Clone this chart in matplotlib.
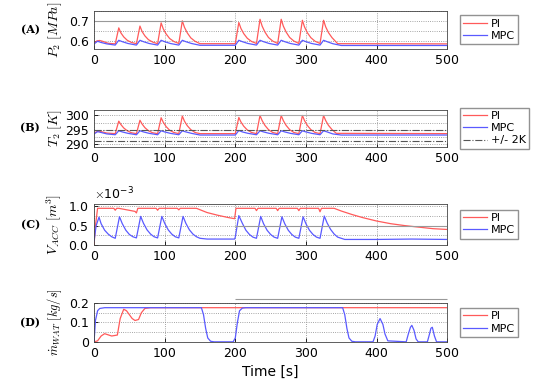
import numpy as np
import matplotlib
matplotlib.use('Agg')
import matplotlib.pyplot as plt
from matplotlib.ticker import ScalarFormatter

plt.rcParams['mathtext.fontset'] = 'cm'

# (A) pressure P2 [MPa]
tA_pi = [0, 4, 8, 12, 20, 30, 35, 38, 42, 47, 53, 60, 65, 68, 72, 77, 83, 90, 95, 98, 102, 107, 113, 120,
         125, 128, 132, 137, 143, 150, 200, 205, 208, 212, 217, 223, 230, 235, 238, 242, 247, 253, 260,
         265, 268, 272, 277, 283, 290, 295, 298, 302, 307, 313, 320, 325, 328, 332, 337, 345, 500]
pA_pi = [0.588, 0.600, 0.602, 0.598, 0.588, 0.585, 0.665, 0.640, 0.620, 0.603, 0.592, 0.586, 0.674, 0.647,
         0.625, 0.606, 0.594, 0.586, 0.690, 0.660, 0.635, 0.612, 0.597, 0.587, 0.700, 0.668, 0.640, 0.615,
         0.598, 0.586, 0.586, 0.692, 0.662, 0.636, 0.613, 0.597, 0.587, 0.708, 0.674, 0.644, 0.617, 0.599,
         0.587, 0.708, 0.674, 0.644, 0.617, 0.599, 0.587, 0.703, 0.670, 0.641, 0.616, 0.598, 0.587, 0.703,
         0.670, 0.641, 0.616, 0.586, 0.585]
tA_mpc = [0, 5, 10, 18, 30, 35, 40, 48, 60, 65, 70, 78, 90, 95, 100, 108, 120, 125, 130, 138, 150, 200,
          205, 210, 218, 230, 235, 240, 248, 260, 265, 270, 278, 290, 295, 300, 308, 320, 325, 330, 338, 350, 500]
pA_mpc = [0.585, 0.598, 0.592, 0.585, 0.579, 0.603, 0.596, 0.587, 0.579, 0.603, 0.596, 0.587, 0.579, 0.603,
          0.596, 0.587, 0.579, 0.603, 0.596, 0.587, 0.578, 0.578, 0.603, 0.596, 0.587, 0.579, 0.603, 0.596,
          0.587, 0.579, 0.603, 0.596, 0.587, 0.579, 0.603, 0.596, 0.587, 0.579, 0.603, 0.596, 0.586, 0.577, 0.577]

# (B) temperature T2 [K]
tB_pi = [0, 6, 10, 18, 30, 35, 38, 42, 47, 53, 60, 65, 68, 72, 77, 83, 90, 95, 98, 102, 107, 113, 120,
         125, 128, 132, 137, 143, 150, 200, 205, 208, 212, 217, 223, 230, 235, 238, 242, 247, 253, 260,
         265, 268, 272, 277, 283, 290, 295, 298, 302, 307, 313, 320, 325, 328, 332, 337, 343, 500]
pB_pi = [293.8, 294.5, 294.3, 293.8, 293.6, 298.0, 296.8, 295.6, 294.6, 293.9, 293.6, 298.3, 297.0, 295.7,
         294.6, 293.9, 293.6, 299.2, 297.6, 296.1, 294.8, 294.0, 293.6, 299.8, 298.0, 296.4, 295.0, 294.0,
         293.6, 293.6, 299.3, 297.7, 296.2, 294.9, 294.0, 293.6, 300.0, 298.2, 296.5, 295.0, 294.0, 293.6,
         300.0, 298.2, 296.5, 295.0, 294.0, 293.6, 300.0, 298.2, 296.5, 295.0, 294.0, 293.6, 300.0, 298.2,
         296.5, 295.0, 293.7, 293.6]
tB_mpc = tA_mpc
pB_mpc = [293.5, 294.3, 294.0, 293.5, 293.2, 294.6, 294.2, 293.7, 293.2, 294.6, 294.2, 293.7, 293.2, 294.6,
          294.2, 293.7, 293.2, 294.6, 294.2, 293.7, 293.1, 293.1, 294.7, 294.2, 293.7, 293.2, 294.6, 294.2,
          293.7, 293.2, 294.6, 294.2, 293.7, 293.2, 294.6, 294.2, 293.7, 293.2, 294.6, 294.2, 293.5, 293.1, 293.1]
band_B = [295.0, 291.0]

# (C) accumulator volume [x1e-3 m^3]
tC_pi = [0, 2, 5, 28, 30, 32, 35, 58, 60, 62, 88, 90, 92, 118, 120, 122, 145, 160, 175, 190, 199, 201,
         228, 230, 232, 258, 260, 262, 288, 290, 292, 318, 320, 322, 340, 350, 365, 380, 400, 420, 440,
         460, 480, 500]
vC_pi = [0.0, 0.5, 0.95, 0.95, 0.90, 0.95, 0.95, 0.87, 0.83, 0.95, 0.95, 0.90, 0.95, 0.95, 0.91, 0.95,
         0.95, 0.84, 0.77, 0.71, 0.68, 0.95, 0.95, 0.89, 0.95, 0.95, 0.89, 0.95, 0.95, 0.89, 0.95, 0.95,
         0.86, 0.95, 0.95, 0.88, 0.79, 0.71, 0.62, 0.55, 0.50, 0.46, 0.42, 0.40]
tC_mpc = [0, 3, 7, 10, 15, 20, 25, 30, 36, 40, 45, 50, 55, 60, 66, 70, 75, 80, 85, 90, 96, 100, 105, 110,
          115, 120, 126, 130, 135, 140, 145, 150, 160, 199, 200, 205, 210, 215, 220, 225, 230, 236, 240,
          245, 250, 255, 260, 266, 270, 275, 280, 285, 290, 296, 300, 305, 310, 315, 320, 326, 330, 335,
          340, 345, 355, 400, 450, 500]
vC_mpc = [0.10, 0.50, 0.72, 0.55, 0.38, 0.28, 0.21, 0.17, 0.73, 0.55, 0.38, 0.27, 0.21, 0.18, 0.74, 0.56,
          0.39, 0.28, 0.21, 0.18, 0.74, 0.56, 0.39, 0.28, 0.21, 0.18, 0.74, 0.56, 0.39, 0.28, 0.21, 0.17,
          0.15, 0.15, 0.20, 0.76, 0.56, 0.38, 0.27, 0.20, 0.17, 0.74, 0.55, 0.38, 0.27, 0.20, 0.17, 0.73,
          0.55, 0.38, 0.27, 0.20, 0.17, 0.73, 0.55, 0.38, 0.27, 0.20, 0.17, 0.75, 0.57, 0.40, 0.28, 0.20,
          0.14, 0.14, 0.15, 0.14]

# (D) water mass flow [kg/s]
tD_pi = [0, 5, 10, 15, 20, 25, 33, 37, 42, 46, 50, 54, 58, 63, 67, 72, 80, 500]
mD_pi = [0.0, 0.005, 0.03, 0.042, 0.036, 0.030, 0.035, 0.12, 0.168, 0.160, 0.140, 0.120, 0.110, 0.115,
         0.150, 0.172, 0.176, 0.176]
tD_mpc = [0, 2, 5, 8, 15, 152, 155, 158, 161, 165, 170, 197, 200, 203, 206, 210, 215, 352, 355, 358, 361,
          365, 370, 395, 398, 401, 405, 409, 412, 416, 442, 445, 448, 450, 453, 456, 459, 472, 475, 477,
          479, 482, 485, 500]
mD_mpc = [0.0, 0.11, 0.16, 0.172, 0.176, 0.176, 0.14, 0.07, 0.02, 0.003, 0.0, 0.0, 0.02, 0.10, 0.16,
          0.174, 0.176, 0.176, 0.14, 0.07, 0.02, 0.003, 0.0, 0.0, 0.03, 0.09, 0.12, 0.09, 0.04, 0.005, 0.0,
          0.04, 0.075, 0.085, 0.06, 0.015, 0.0, 0.0, 0.04, 0.07, 0.075, 0.03, 0.0, 0.0]

red = '#ff5a5a'
blue = '#5a5aff'

fig = plt.figure(figsize=(5.5, 3.88), dpi=100)
pos = [[0.171, 0.874, 0.642, 0.098],
       [0.171, 0.622, 0.642, 0.095],
       [0.171, 0.369, 0.642, 0.106],
       [0.171, 0.119, 0.642, 0.100]]
axs = [fig.add_axes(p) for p in pos]

axs[0].plot(tA_pi, pA_pi, color=red, lw=0.9, label='PI')
axs[0].plot(tA_mpc, pA_mpc, color=blue, lw=0.9, label='MPC')
axs[0].hlines(0.70, 0, 195, color='#999999', lw=0.8)
axs[0].set_ylim(0.56, 0.75)
axs[0].set_yticks([0.6, 0.7])
axs[0].set_yticklabels(['0.6', '0.7'])
axs[0].set_ylabel(r'$P_2\ [MPa]$', fontsize=10)

axs[1].plot(tB_pi, pB_pi, color=red, lw=0.9, label='PI')
axs[1].plot(tB_mpc, pB_mpc, color=blue, lw=0.9, label='MPC')
axs[1].axhline(band_B[0], color='#555555', lw=0.8, ls='-.', label='+/- 2K')
axs[1].axhline(band_B[1], color='#555555', lw=0.8, ls='-.')
axs[1].hlines(300, 200, 500, color='#aaaaaa', lw=0.8)
axs[1].set_ylim(289, 302)
axs[1].set_yticks([290, 295, 300])
axs[1].set_ylabel(r'$T_2\ [K]$', fontsize=10)

axs[2].plot(tC_pi, np.array(vC_pi) * 1e-3, color=red, lw=0.9, label='PI')
axs[2].plot(tC_mpc, np.array(vC_mpc) * 1e-3, color=blue, lw=0.9, label='MPC')
axs[2].hlines(0.5e-3, 200, 500, color='#999999', lw=0.8)
axs[2].set_ylim(0, 1.07e-3)
axs[2].set_yticks([0, 0.5e-3, 1e-3])
fmt = ScalarFormatter(useMathText=True)
fmt.set_powerlimits((-2, 2))
axs[2].yaxis.set_major_formatter(fmt)
axs[2].yaxis.get_offset_text().set_fontsize(9)
axs[2].set_ylabel(r'$V_{ACC}\ [m^3]$', fontsize=10)

axs[3].plot(tD_pi, mD_pi, color=red, lw=0.9, label='PI')
axs[3].plot(tD_mpc, mD_mpc, color=blue, lw=0.9, label='MPC')
axs[3].hlines(0.22, 200, 500, color='#999999', lw=0.8, clip_on=False)
axs[3].set_ylim(0, 0.2)
axs[3].set_yticks([0, 0.1, 0.2])
axs[3].set_yticklabels(['0', '0.1', '0.2'])
axs[3].set_ylabel(r'$\dot{m}_{WAT}\ [kg/s]$', fontsize=9)
axs[3].set_xlabel('Time [s]', fontsize=10)

for ax, lab in zip(axs, ['(A)', '(B)', '(C)', '(D)']):
    ax.set_xlim(0, 500)
    ax.set_xticks([0, 100, 200, 300, 400, 500])
    ax.tick_params(direction='in', labelsize=9, length=3, width=0.6)
    ax.yaxis.set_minor_locator(matplotlib.ticker.AutoMinorLocator(2))
    ax.grid(True, which='both', ls=':', color='#888888', lw=0.6)
    ax.tick_params(which='minor', length=0)
    for s in ax.spines.values():
        s.set_linewidth(0.6)
        s.set_color('#444444')
    ax.legend(loc='center left', bbox_to_anchor=(1.035, 0.5), fontsize=8, frameon=True,
              fancybox=False, edgecolor='#777777', handlelength=2.2, borderpad=0.3,
              labelspacing=0.2, handletextpad=0.3, borderaxespad=0)
    ax.yaxis.set_label_coords(-0.085, 0.5)
    fig.text(0.055, ax.get_position().y0 + ax.get_position().height / 2, lab,
             fontsize=8, family='DejaVu Serif', fontweight='bold', ha='center', va='center')

fig.savefig('out.png', dpi=100)
